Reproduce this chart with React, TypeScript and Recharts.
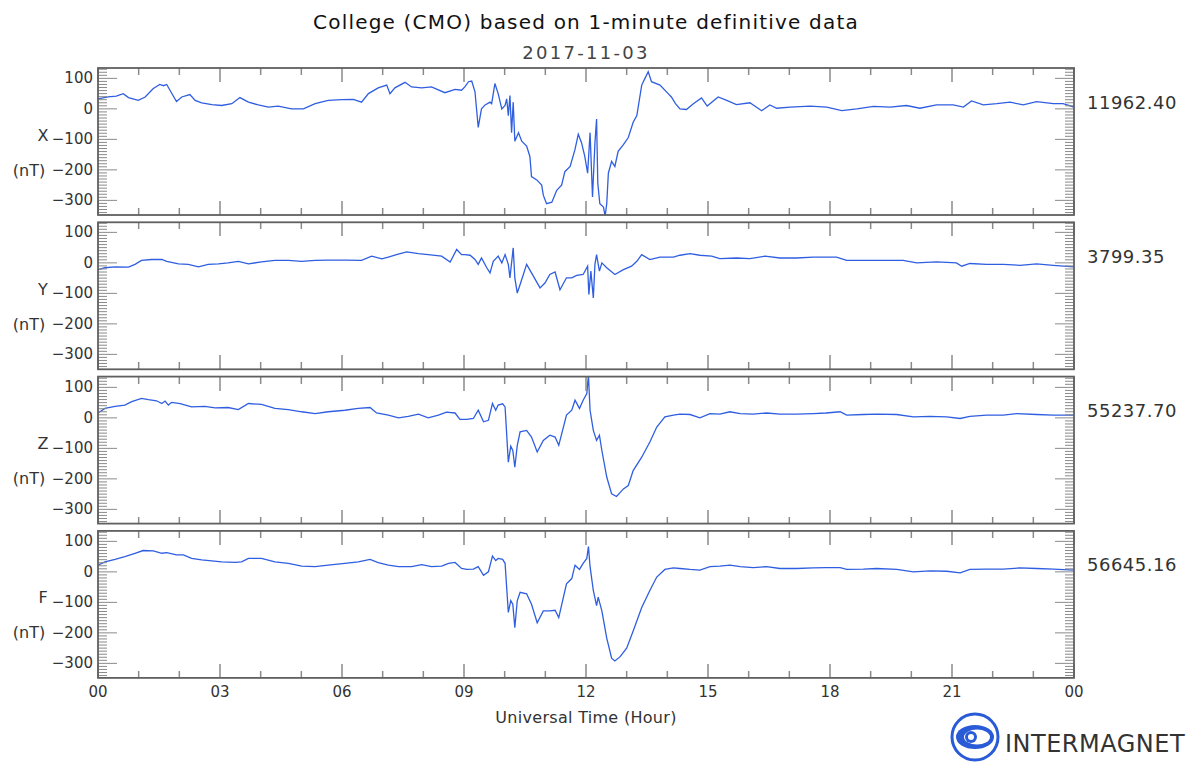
import { LineChart, Line, XAxis, YAxis } from "recharts";

// hours (UT) and offsets in nT
const X_POINTS: [number, number][] = [
  [0, 33], [0.25, 39], [0.45, 42], [0.62, 50], [0.75, 37], [0.99, 28], [1.16, 39], [1.36, 67],
  [1.52, 80], [1.61, 76], [1.69, 80], [1.77, 61], [1.93, 24], [2.06, 39], [2.26, 47], [2.39, 28],
  [2.55, 20], [2.8, 14], [3.04, 11], [3.29, 17], [3.49, 37], [3.7, 22], [3.94, 13], [4.19, 6],
  [4.43, 9], [4.76, 0], [5.05, 0], [5.34, 17], [5.66, 28], [5.99, 30], [6.28, 31], [6.48, 22],
  [6.65, 50], [6.89, 69], [7.1, 78], [7.18, 50], [7.3, 69], [7.55, 87], [7.71, 72], [7.96, 69],
  [8.2, 72], [8.53, 53], [8.78, 64], [8.94, 61], [9.02, 72], [9.11, 89], [9.19, 91], [9.27, 56],
  [9.35, -61], [9.43, 0], [9.52, 13], [9.64, 22], [9.68, 17], [9.76, 83], [9.84, 50], [9.93, 0],
  [10.01, 11], [10.05, 33], [10.09, -22], [10.13, 44], [10.17, -78], [10.21, 22], [10.25, -106],
  [10.34, -78], [10.42, -106], [10.54, -122], [10.62, -156], [10.66, -222], [10.79, -233],
  [10.91, -250], [10.95, -283], [11.03, -311], [11.16, -306], [11.28, -267], [11.4, -250],
  [11.48, -206], [11.61, -189], [11.73, -133], [11.81, -83], [11.89, -111], [11.97, -156],
  [12.04, -211], [12.1, -78], [12.16, -289], [12.22, -111], [12.26, -33], [12.29, -244],
  [12.34, -311], [12.43, -322], [12.47, -352], [12.51, -311], [12.55, -211], [12.63, -172],
  [12.71, -189], [12.79, -139], [12.92, -117], [13.04, -94], [13.16, -44], [13.25, -22],
  [13.37, 78], [13.45, 100], [13.53, 122], [13.61, 89], [13.82, 78], [14.02, 50], [14.1, 39],
  [14.2, 17], [14.31, 0], [14.47, -2], [14.64, 17], [14.84, 36], [14.98, 9], [15.25, 39],
  [15.46, 28], [15.7, 14], [16.03, 20], [16.32, -6], [16.52, 13], [16.69, 2], [17.02, 6],
  [17.51, 9], [17.92, 6], [18.29, -6], [18.66, 0], [19.07, 8], [19.48, 6], [19.88, 11],
  [20.21, 2], [20.62, 13], [21.03, 13], [21.28, 6], [21.48, 26], [21.77, 13], [22.1, 17],
  [22.43, 22], [22.75, 13], [23.08, 24], [23.49, 17], [23.73, 17], [24, 6],
];

const Y_POINTS: [number, number][] = [
  [0, -22], [0.17, -16], [0.42, -13], [0.75, -14], [0.91, -5], [1.07, 8], [1.32, 11], [1.57, 11],
  [1.69, 5], [1.98, -3], [2.22, -5], [2.47, -13], [2.71, -5], [2.96, -3], [3.2, 0], [3.45, 5],
  [3.7, -3], [4.02, 3], [4.35, 8], [4.68, 8], [5.01, 5], [5.34, 8], [5.66, 9], [6.07, 9],
  [6.48, 8], [6.73, 22], [6.98, 13], [7.14, 19], [7.34, 27], [7.59, 36], [7.88, 30], [8.12, 27],
  [8.45, 22], [8.66, 3], [8.82, 44], [8.94, 27], [9.02, 27], [9.15, 25], [9.27, 11], [9.35, -5],
  [9.43, 16], [9.56, -16], [9.64, -33], [9.72, 5], [9.84, 22], [9.93, 0], [10.01, 27],
  [10.09, -5], [10.13, -49], [10.21, 49], [10.25, -49], [10.31, -99], [10.38, -71], [10.54, -5],
  [10.66, -33], [10.87, -82], [10.99, -66], [11.11, -38], [11.24, -30], [11.36, -88],
  [11.52, -49], [11.65, -49], [11.77, -41], [11.93, -38], [12.04, -11], [12.07, -104],
  [12.12, -27], [12.18, -115], [12.22, -5], [12.26, 27], [12.33, -27], [12.39, 0], [12.51, -16],
  [12.71, -38], [12.92, -22], [13.12, -11], [13.25, 5], [13.37, 27], [13.57, 11], [13.82, 19],
  [14.15, 19], [14.31, 25], [14.56, 30], [14.8, 25], [15.09, 22], [15.29, 14], [15.7, 16],
  [16.03, 14], [16.4, 22], [16.77, 16], [17.18, 16], [17.59, 19], [18.16, 19], [18.41, 8],
  [18.82, 8], [19.31, 8], [19.8, 8], [20.13, 0], [20.62, 3], [21.11, 0], [21.24, -11],
  [21.44, -2], [21.85, -5], [22.26, -5], [22.67, -8], [23.08, -3], [23.49, -8], [24, -13],
];

const Z_POINTS: [number, number][] = [
  [0, 16], [0.17, 31], [0.42, 38], [0.66, 42], [0.83, 53], [1.07, 64], [1.24, 60], [1.44, 56],
  [1.57, 47], [1.65, 55], [1.73, 42], [1.81, 51], [2.02, 47], [2.3, 36], [2.63, 38], [2.88, 33],
  [3.2, 34], [3.45, 27], [3.7, 47], [4.02, 44], [4.35, 31], [4.68, 27], [5.01, 20], [5.34, 14],
  [5.66, 20], [6.07, 25], [6.4, 31], [6.69, 34], [6.85, 16], [7.14, 9], [7.39, 0], [7.63, 5],
  [7.88, 12], [8.12, 0], [8.37, 9], [8.57, 19], [8.78, 16], [8.9, -5], [9.07, -5], [9.23, -2],
  [9.35, 25], [9.48, -13], [9.6, -8], [9.7, 47], [9.78, 25], [9.84, 42], [9.95, 46], [10.01, 36],
  [10.09, -145], [10.15, -93], [10.2, -107], [10.25, -162], [10.31, -90], [10.38, -46],
  [10.54, -41], [10.66, -63], [10.8, -112], [10.95, -74], [11.11, -57], [11.24, -63],
  [11.33, -90], [11.52, 9], [11.65, 25], [11.73, 58], [11.84, 31], [11.93, 58], [12.02, 80],
  [12.06, 140], [12.1, 25], [12.18, -41], [12.26, -74], [12.33, -57], [12.39, -107],
  [12.51, -194], [12.63, -249], [12.75, -258], [12.92, -233], [13.04, -222], [13.16, -173],
  [13.37, -129], [13.57, -79], [13.74, -30], [13.94, 3], [14.15, 9], [14.31, 12], [14.56, 11],
  [14.8, 0], [15.05, 14], [15.29, 12], [15.54, 20], [15.79, 14], [16.11, 12], [16.44, 16],
  [16.77, 12], [17.18, 12], [17.59, 14], [17.9, 16], [18.25, 20], [18.41, 9], [18.82, 11],
  [19.15, 12], [19.64, 11], [20.05, 3], [20.46, 5], [20.87, 3], [21.2, -2], [21.44, 5],
  [21.85, 9], [22.26, 9], [22.59, 14], [23.08, 11], [23.49, 9], [24, 9],
];

const F_POINTS: [number, number][] = [
  [0, 22], [0.17, 33], [0.42, 41], [0.66, 50], [0.91, 61], [1.11, 70], [1.36, 69], [1.57, 61],
  [1.69, 63], [1.93, 56], [2.1, 56], [2.3, 44], [2.55, 39], [2.8, 36], [3.04, 33], [3.37, 31],
  [3.53, 33], [3.7, 44], [4.02, 44], [4.35, 33], [4.68, 28], [5.01, 19], [5.34, 17], [5.66, 22],
  [6.07, 28], [6.4, 33], [6.69, 41], [6.89, 30], [7.14, 22], [7.39, 17], [7.71, 17], [7.96, 24],
  [8.2, 17], [8.45, 19], [8.62, 28], [8.78, 31], [8.94, 11], [9.07, 8], [9.23, 9], [9.35, 17],
  [9.48, -11], [9.6, 0], [9.7, 52], [9.78, 37], [9.84, 44], [9.95, 41], [10.01, 28],
  [10.09, -133], [10.15, -94], [10.2, -106], [10.25, -183], [10.31, -94], [10.38, -67],
  [10.54, -72], [10.66, -106], [10.8, -167], [10.95, -128], [11.11, -128], [11.24, -126],
  [11.33, -150], [11.52, -39], [11.65, -22], [11.73, 22], [11.84, 8], [11.93, 28], [12.02, 44],
  [12.06, 83], [12.1, 17], [12.18, -61], [12.26, -111], [12.3, -83], [12.39, -128],
  [12.51, -217], [12.63, -283], [12.71, -292], [12.84, -278], [13, -250], [13.16, -194],
  [13.37, -117], [13.57, -61], [13.74, -17], [13.94, 8], [14.15, 13], [14.31, 11], [14.56, 8],
  [14.8, 6], [15.05, 17], [15.29, 19], [15.54, 22], [15.79, 17], [16.11, 14], [16.44, 17],
  [16.77, 11], [17.18, 11], [17.59, 13], [17.9, 14], [18.25, 14], [18.41, 8], [18.82, 9],
  [19.15, 11], [19.64, 8], [20.05, 0], [20.46, 3], [20.87, 2], [21.2, -3], [21.44, 8],
  [21.85, 9], [22.26, 9], [22.67, 13], [23.08, 11], [23.49, 9], [24, 6],
];

const COMPONENTS = ["X", "Y", "Z", "F"];
const BASELINES = ["11962.40", "3799.35", "55237.70", "56645.16"];
const SERIES = [X_POINTS, Y_POINTS, Z_POINTS, F_POINTS];

const HOUR_TICKS = Array.from({ length: 25 }, (_, i) => i);
const NT_TICKS = Array.from({ length: 48 }, (_, i) => -340 + i * 10);
const NT_DOMAIN = [-348, 134];

const FONT = "'DejaVu Sans', sans-serif";
const LINE_COLOR = "#2f5ee0";
const TICK_COLOR = "#8a8a8a";
const FRAME_COLOR = "#606060";

const PLOT_LEFT = 98;
const PLOT_W = 976;
const PLOT_H = 147;
const PANEL_TOP = 68;
const PANEL_STEP = 154.3;
const MT = 10;
const MB = 30;
const Y_AXIS_W = 40;
const X_AXIS_H = 20;

const pad = (h: number) => String(h % 24).padStart(2, "0");
const fmtNT = (v: number) => (v < 0 ? "\u2212" + Math.abs(v) : String(v));

function HourTick(props: any) {
  const { x, y, payload, showLabel } = props;
  const h = payload.value;
  const len = h % 3 === 0 ? 14 : 7;
  return (
    <g>
      <line x1={x} x2={x} y1={y} y2={y - len} stroke={TICK_COLOR} strokeWidth={1.5} />
      <line x1={x} x2={x} y1={y - PLOT_H} y2={y - PLOT_H + len} stroke={TICK_COLOR} strokeWidth={1.5} />
      {showLabel && h % 3 === 0 && (
        <text x={x} y={y + 14} textAnchor="middle" dominantBaseline="central" fontSize={15} fill="#333" fontFamily={FONT}>
          {pad(h)}
        </text>
      )}
    </g>
  );
}

function NtTick(props: any) {
  const { x, y, payload } = props;
  const v = payload.value;
  const major = v % 100 === 0;
  const len = major ? 19 : 9;
  return (
    <g>
      <line x1={x} x2={x + len} y1={y} y2={y} stroke={TICK_COLOR} strokeWidth={1} />
      <line x1={x + PLOT_W} x2={x + PLOT_W - len} y1={y} y2={y} stroke={TICK_COLOR} strokeWidth={1} />
      {major && (
        <text x={x - 5} y={y} textAnchor="end" dominantBaseline="central" fontSize={15} fill="#333" fontFamily={FONT}>
          {fmtNT(v)}
        </text>
      )}
    </g>
  );
}

function Panel({ index }: { index: number }) {
  const data = SERIES[index].map(([t, v]) => ({ t, v }));
  const top = PANEL_TOP + index * PANEL_STEP;
  const last = index === SERIES.length - 1;
  return (
    <div style={{ position: "absolute", left: 0, top: top - MT }}>
      <LineChart
        width={1195}
        height={MT + PLOT_H + MB}
        data={data}
        margin={{ top: MT, right: 1195 - PLOT_LEFT - PLOT_W, bottom: MB - X_AXIS_H, left: PLOT_LEFT - Y_AXIS_W }}
      >
        <XAxis
          dataKey="t"
          type="number"
          domain={[0, 24]}
          ticks={HOUR_TICKS}
          interval={0}
          allowDataOverflow
          height={X_AXIS_H}
          tickSize={0}
          tickMargin={0}
          axisLine={false}
          tickLine={false}
          tick={<HourTick showLabel={last} />}
        />
        <YAxis
          type="number"
          domain={NT_DOMAIN}
          ticks={NT_TICKS}
          interval={0}
          allowDataOverflow
          width={Y_AXIS_W}
          tickSize={0}
          tickMargin={0}
          axisLine={false}
          tickLine={false}
          tick={<NtTick />}
        />
        <Line
          type="linear"
          dataKey="v"
          stroke={LINE_COLOR}
          strokeWidth={1.3}
          dot={false}
          isAnimationActive={false}
        />
      </LineChart>
    </div>
  );
}

function Logo() {
  return (
    <g transform="translate(975 737)">
      <circle r={23} fill="#fff" stroke="#2a5bd7" strokeWidth={3} />
      <ellipse rx={19} ry={12} fill="#2a5bd7" />
      <ellipse cx={2} rx={13} ry={7.5} fill="#fff" />
      <ellipse cx={-4} rx={6} ry={6} fill="#2a5bd7" />
      <ellipse cx={-4} rx={3} ry={3} fill="#fff" />
    </g>
  );
}

export default function App() {
  return (
    <div style={{ position: "absolute", left: 0, top: 0, width: 1195, height: 763, background: "#fff", fontFamily: FONT }}>
      {COMPONENTS.map((c, i) => (
        <Panel key={c} index={i} />
      ))}
      <svg width={1195} height={763} style={{ position: "absolute", left: 0, top: 0, pointerEvents: "none" }}>
        <text x={586} y={22} textAnchor="middle" dominantBaseline="central" fontSize={20} fill="#111" fontFamily={FONT} letterSpacing={1.2}>
          College (CMO) based on 1-minute definitive data
        </text>
        <text x={586} y={52} textAnchor="middle" dominantBaseline="central" fontSize={18} fill="#444" fontFamily={FONT} letterSpacing={2.3}>
          2017-11-03
        </text>
        {COMPONENTS.map((c, i) => {
          const top = PANEL_TOP + i * PANEL_STEP;
          return (
            <g key={c}>
              <rect x={PLOT_LEFT} y={top} width={PLOT_W} height={PLOT_H} fill="none" stroke={FRAME_COLOR} strokeWidth={1.8} />
              <text x={43} y={top + 67} textAnchor="middle" dominantBaseline="central" fontSize={16} fill="#333" fontFamily={FONT}>
                {c}
              </text>
              <text x={29} y={top + 102} textAnchor="middle" dominantBaseline="central" fontSize={16} fill="#333" fontFamily={FONT}>
                (nT)
              </text>
              <text x={1087} y={top + 34} dominantBaseline="central" fontSize={18} fill="#333" fontFamily={FONT} letterSpacing={0.5}>
                {BASELINES[i]}
              </text>
            </g>
          );
        })}
        <text x={586} y={717} textAnchor="middle" dominantBaseline="central" fontSize={16} fill="#333" fontFamily={FONT} letterSpacing={0.3}>
          Universal Time (Hour)
        </text>
        <Logo />
        <text x={1005} y={744} dominantBaseline="central" fontSize={24} fill="#333" fontFamily={FONT} letterSpacing={0.5}>
          INTERMAGNET
        </text>
      </svg>
    </div>
  );
}
